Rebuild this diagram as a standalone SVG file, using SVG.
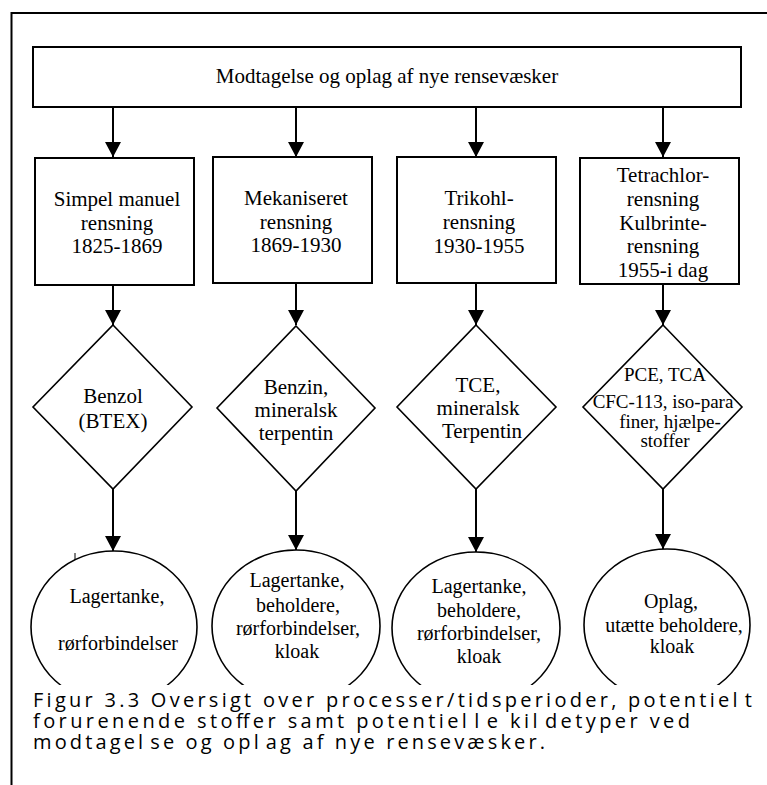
<svg xmlns="http://www.w3.org/2000/svg" width="767" height="785" viewBox="0 0 767 785">
<defs>
<style>
.n{fill:#fff;stroke:#000;stroke-width:2}
.d{fill:#fff;stroke:#000;stroke-width:1.6}
.t{font-family:"Liberation Serif","Times New Roman",serif;font-size:21px;fill:#000;text-anchor:middle}
.s{font-size:20px}
.x{font-size:19px}
.c{font-family:"Open Sans","DejaVu Sans","Liberation Sans",sans-serif;font-size:20px;fill:#000}
.e{stroke:#000;stroke-width:2;fill:none;marker-end:url(#ah)}
</style>
<marker id="ah" markerUnits="userSpaceOnUse" markerWidth="16" markerHeight="16" refX="15" refY="8" orient="auto">
<path d="M0,0 L15,8 L0,16 Z" fill="#000"/>
</marker>
</defs>
<rect width="767" height="785" fill="#fff"/>
<g id="connectors">
<path class="e" d="M113,107 V157"/>
<path class="e" d="M296,107 V157"/>
<path class="e" d="M476,107 V157"/>
<path class="e" d="M663,107 V157"/>
<path class="e" d="M113,285 V325"/>
<path class="e" d="M296,284 V325"/>
<path class="e" d="M476,284 V325"/>
<path class="e" d="M663,285 V325"/>
<path class="e" d="M113,489 V551"/>
<path class="e" d="M296,490 V550"/>
<path class="e" d="M476,489 V552"/>
<path class="e" d="M663,489 V549"/>
</g>
<g id="top">
<rect class="n" x="33" y="47" width="708" height="60"/>
<text class="t" x="387" y="83">Modtagelse og oplag af nye rensevæsker</text>
</g>
<g id="box1">
<rect class="n" x="35" y="158" width="159" height="127"/>
<text class="t" x="117" y="206">Simpel manuel</text>
<text class="t" x="117" y="230">rensning</text>
<text class="t" x="117" y="253">1825-1869</text>
</g>
<g id="box2">
<rect class="n" x="213" y="157" width="159" height="126"/>
<text class="t" x="296" y="205">Mekaniseret</text>
<text class="t" x="296" y="229">rensning</text>
<text class="t" x="296" y="252">1869-1930</text>
</g>
<g id="box3">
<rect class="n" x="397" y="157" width="159" height="126"/>
<text class="t" x="479" y="205">Trikohl-</text>
<text class="t" x="479" y="229">rensning</text>
<text class="t" x="479" y="253">1930-1955</text>
</g>
<g id="box4">
<rect class="n" x="580" y="158" width="159" height="126"/>
<text class="t" x="663" y="182">Tetrachlor-</text>
<text class="t" x="663" y="206">rensning</text>
<text class="t" x="663" y="230">Kulbrinte-</text>
<text class="t" x="663" y="253">rensning</text>
<text class="t" x="663" y="277">1955-i dag</text>
</g>
<g id="dia1">
<polygon class="d" points="113,325 192,407 113,489 33,407"/>
<text class="t" x="113" y="403">Benzol</text>
<text class="t" x="113" y="428">(BTEX)</text>
</g>
<g id="dia2">
<polygon class="d" points="296,326 375,408 296,491 217,408"/>
<text class="t" x="296" y="394">Benzin,</text>
<text class="t" x="296" y="417">mineralsk</text>
<text class="t" x="296" y="440">terpentin</text>
</g>
<g id="dia3">
<polygon class="d" points="476,325 556,407 476,489 397,407"/>
<text class="t" x="478" y="392">TCE,</text>
<text class="t" x="478" y="415">mineralsk</text>
<text class="t" x="482" y="438">Terpentin</text>
</g>
<g id="dia4">
<polygon class="d" points="663,325 742,407 663,489 583,407"/>
<text class="t x" x="665" y="381">PCE, TCA</text>
<text class="t x" x="663" y="408">CFC-113, iso-para</text>
<text class="t x" x="670" y="428">finer, hjælpe-</text>
<text class="t x" x="665" y="447">stoffer</text>
</g>
<path d="M75,553 V560" stroke="#000" stroke-width="1"/>
<g id="ell1">
<ellipse class="d" cx="114" cy="627" rx="83" ry="76"/>
<text class="t s" x="117" y="603">Lagertanke,</text>
<text class="t s" x="118" y="650">rørforbindelser</text>
</g>
<g id="ell2">
<ellipse class="d" cx="296" cy="626" rx="84" ry="76"/>
<text class="t s" x="297" y="587">Lagertanke,</text>
<text class="t s" x="298" y="612">beholdere,</text>
<text class="t s" x="298" y="635">rørforbindelser,</text>
<text class="t s" x="297" y="658">kloak</text>
</g>
<g id="ell3">
<ellipse class="d" cx="476" cy="628" rx="84" ry="76"/>
<text class="t s" x="479" y="593">Lagertanke,</text>
<text class="t s" x="479" y="617">beholdere,</text>
<text class="t s" x="479" y="640">rørforbindelser,</text>
<text class="t s" x="479" y="663">kloak</text>
</g>
<g id="ell4">
<ellipse class="d" cx="667" cy="625" rx="83" ry="76"/>
<text class="t s" x="671" y="608">Oplag,</text>
<text class="t s" x="674" y="632">utætte beholdere,</text>
<text class="t s" x="672" y="653">kloak</text>
</g>
<rect x="13" y="685" width="754" height="100" fill="#fff"/>
<g id="caption">
<text class="c" x="33" y="707" textLength="719" lengthAdjust="spacing">Figur 3.3 Oversigt over processer/tidsperioder, potentiel<tspan dx="4">t</tspan></text>
<text class="c" x="33" y="728" textLength="657" lengthAdjust="spacing">forurenende stoffer samt potentiel<tspan dx="4">l</tspan><tspan dx="4">e</tspan> kil<tspan dx="4">detyper ved</tspan></text>
<text class="c" x="33" y="749" textLength="512" lengthAdjust="spacing">modtagel<tspan dx="4">se og opl</tspan><tspan dx="4">ag af nye rensevæsker.</tspan></text>
</g>
<path d="M11.5,785 V13 H767" fill="none" stroke="#000" stroke-width="2"/>
</svg>
